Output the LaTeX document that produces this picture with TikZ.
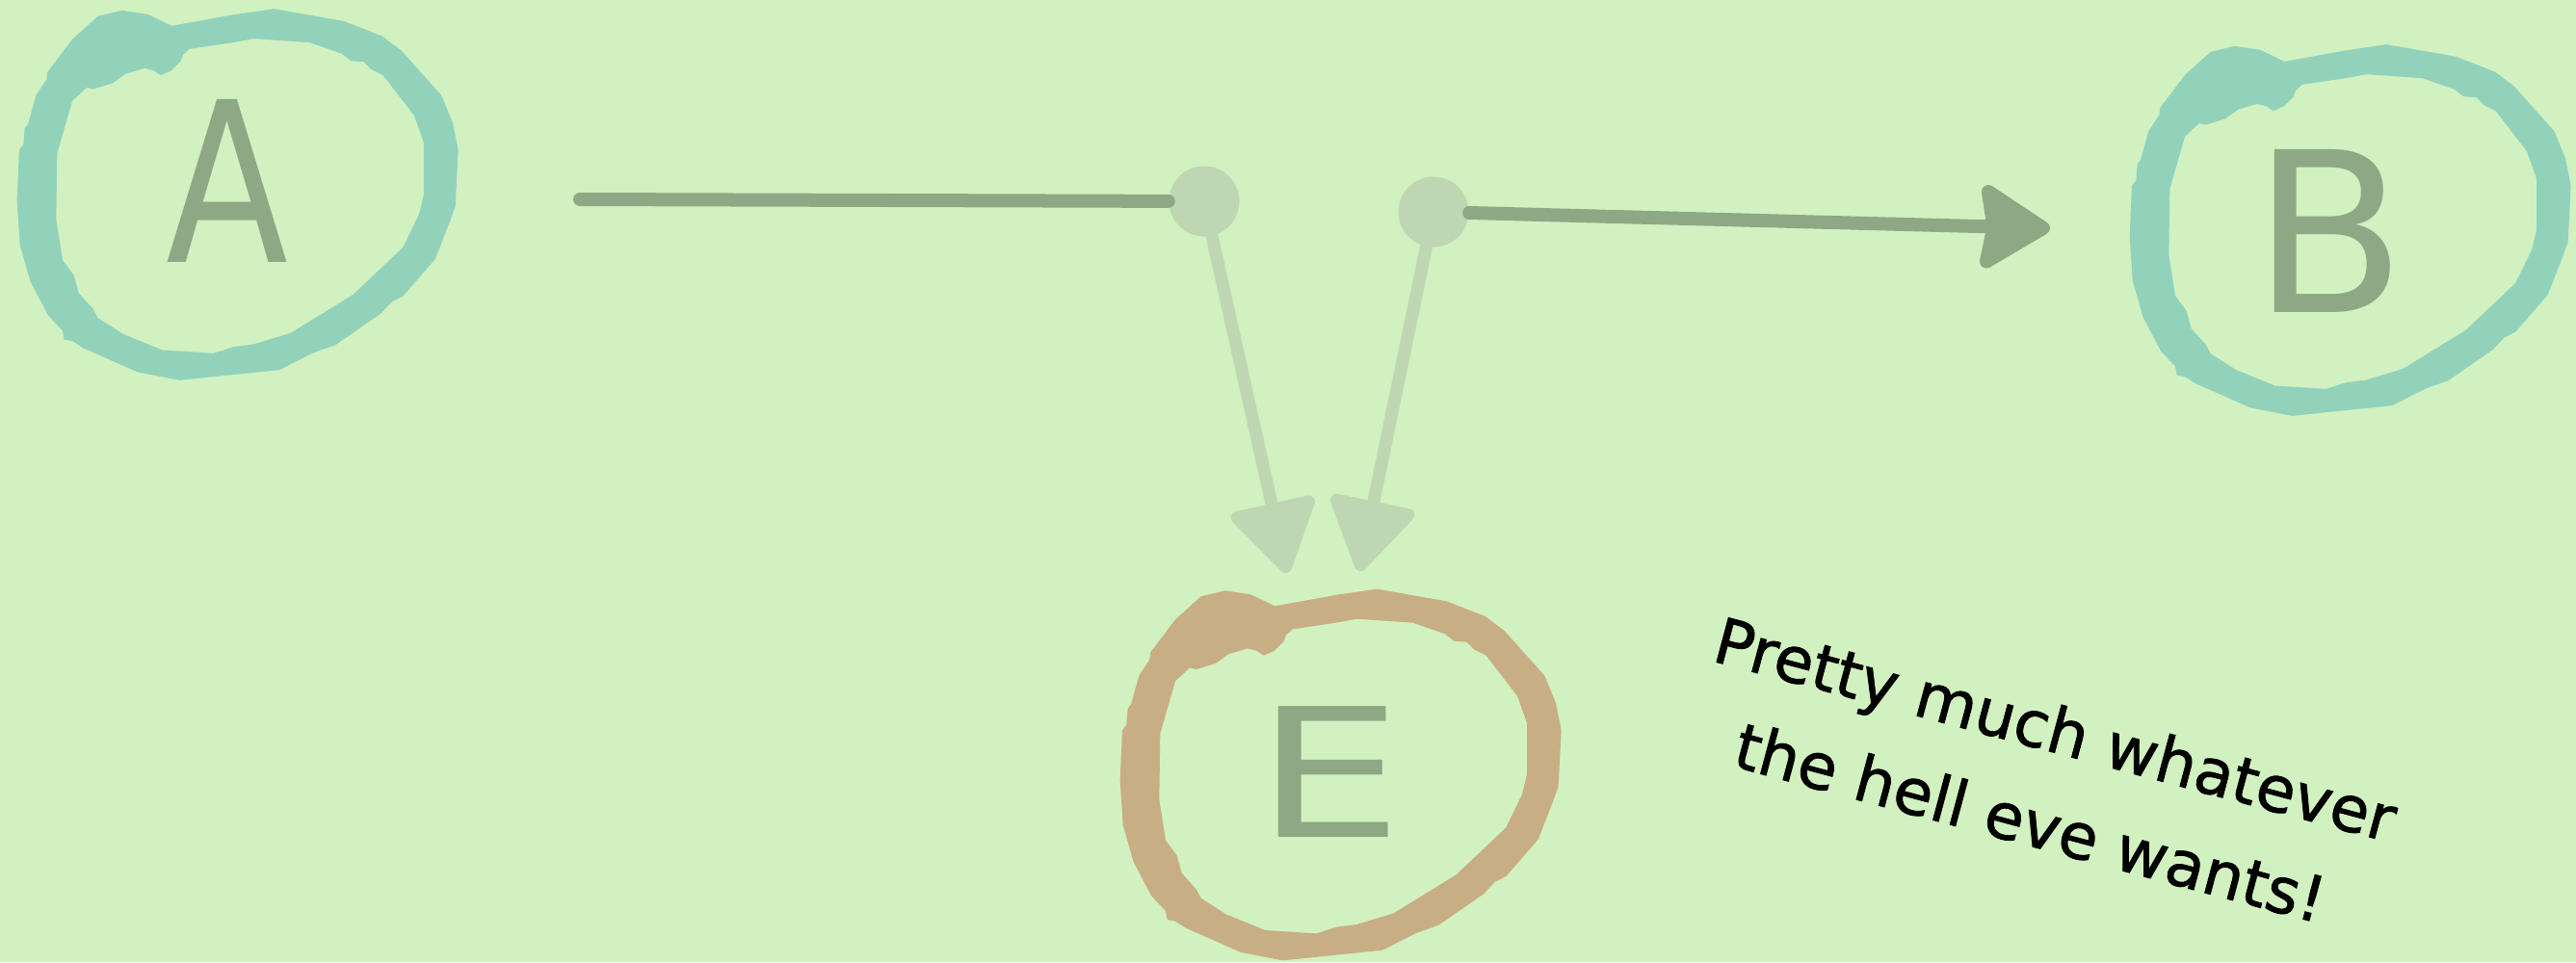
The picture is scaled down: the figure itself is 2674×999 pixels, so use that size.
\documentclass[tikz,border=0pt]{standalone}
\usepackage{fontspec}
\setmainfont{DejaVu Sans}
\newfontfamily\notefont[FakeBold=1.2]{DejaVu Sans}
\usetikzlibrary{arrows.meta}

\definecolor{paper}{RGB}{209,241,192}
\definecolor{ringteal}{RGB}{146,210,187}
\definecolor{ringtan}{RGB}{200,174,132}
\definecolor{ink}{RGB}{142,168,133}
\definecolor{pale}{RGB}{190,215,178}

\tikzset{
  % hand-drawn loop, traced as the band between an outer and an inner polygon
  ring/.pic={
    \begin{scope}[scale=1/3, shift={(-726,-643.5)}]
      \path[pic actions, even odd rule]
        (290,88) -- (365,70) -- (445,82) -- (520,118) -- (720,82) -- (838,65)
        -- (1055,103) -- (1175,150) -- (1235,195) -- (1360,335) -- (1395,420)
        -- (1412,505) -- (1403,680) -- (1385,730) -- (1340,845) -- (1240,960)
        -- (1205,978) -- (1170,1015) -- (1030,1112) -- (960,1137) -- (855,1190)
        -- (545,1222) -- (415,1197) -- (245,1122) -- (210,1100) -- (185,1095)
        -- (180,1068) -- (135,1020) -- (80,915) -- (47,800) -- (38,660)
        -- (45,505) -- (58,488) -- (62,437) -- (72,425) -- (97,335) -- (130,285)
        -- (133,262) -- (210,160) -- cycle
        (575,190) -- (710,170) -- (775,158) -- (950,170) -- (1050,205)
        -- (1078,227) -- (1118,230) -- (1140,253) -- (1178,272) -- (1275,398)
        -- (1305,482) -- (1305,643) -- (1290,705) -- (1240,808) -- (1085,955)
        -- (890,1075) -- (775,1110) -- (712,1118) -- (650,1138) -- (490,1128)
        -- (368,1078) -- (290,1028) -- (275,1000) -- (230,950) -- (215,895)
        -- (180,848) -- (160,720) -- (163,515) -- (210,352) -- (255,310)
        -- (275,315) -- (335,297) -- (375,268) -- (435,250) -- (465,258)
        -- (485,272) -- (518,258) -- (548,228) -- (555,208) -- cycle;
    \end{scope}
  },
  letter/.style={inner sep=0pt, text=ink, font=\fontsize{66}{70}\selectfont},
  junction/.style={circle, fill=pale, minimum size=0.73cm, inner sep=0pt},
  mainline/.style={draw=ink, line width=0.14cm, line cap=round},
  paleline/.style={draw=pale, line width=0.13cm, line cap=round},
  bigtip/.style={-{Stealth[length=0.80cm, width=0.98cm, inset=0.08cm, round]}},
  paletip/.style={-{Triangle[length=0.80cm, width=0.96cm, round]}},
  caption/.style={align=center, text=black, inner sep=0pt,
    font=\notefont\fontsize{18.7}{28.5}\selectfont}
}

\begin{document}
\begin{tikzpicture}[x=0.01cm, y=-0.01cm]
  \useasboundingbox (0,0) rectangle (2674,999);
  \fill[paper] (0,0) rectangle (2674,999);

  % the three loops
  \pic[fill=ringteal] at (247,202) {ring};
  \pic[fill=ringtan] at (1392,804.5) {ring};
  \pic[fill=ringteal] at (2440,239) {ring};

  % letters inside the loops
  \node[letter, xscale=0.8] (A) at (236,188) {A};
  \node[letter, xscale=1.3, font=\fontsize{53}{56}\selectfont] (E) at (1380,802) {E};
  \node[letter] (B) at (2418,240) {B};

  % junction dots and free ends
  \node[junction] (d1) at (1250,209) {};
  \node[junction] (d2) at (1488,220) {};
  \coordinate (s1) at (602,207);
  \coordinate (tB) at (2128,237);
  \coordinate (t1) at (1336,595);
  \coordinate (t2) at (1411,593);

  % connectors
  \draw[paleline, paletip] (d1) -- (t1);
  \draw[paleline, paletip] (d2) -- (t2);
  \draw[mainline] (s1) -- (d1);
  \draw[mainline, bigtip] (d2) -- (tB);

  % note
  \node[caption, rotate=-15] (note) at (2121,805)
    {Pretty much whatever\\the hell eve wants!};
\end{tikzpicture}
\end{document}
